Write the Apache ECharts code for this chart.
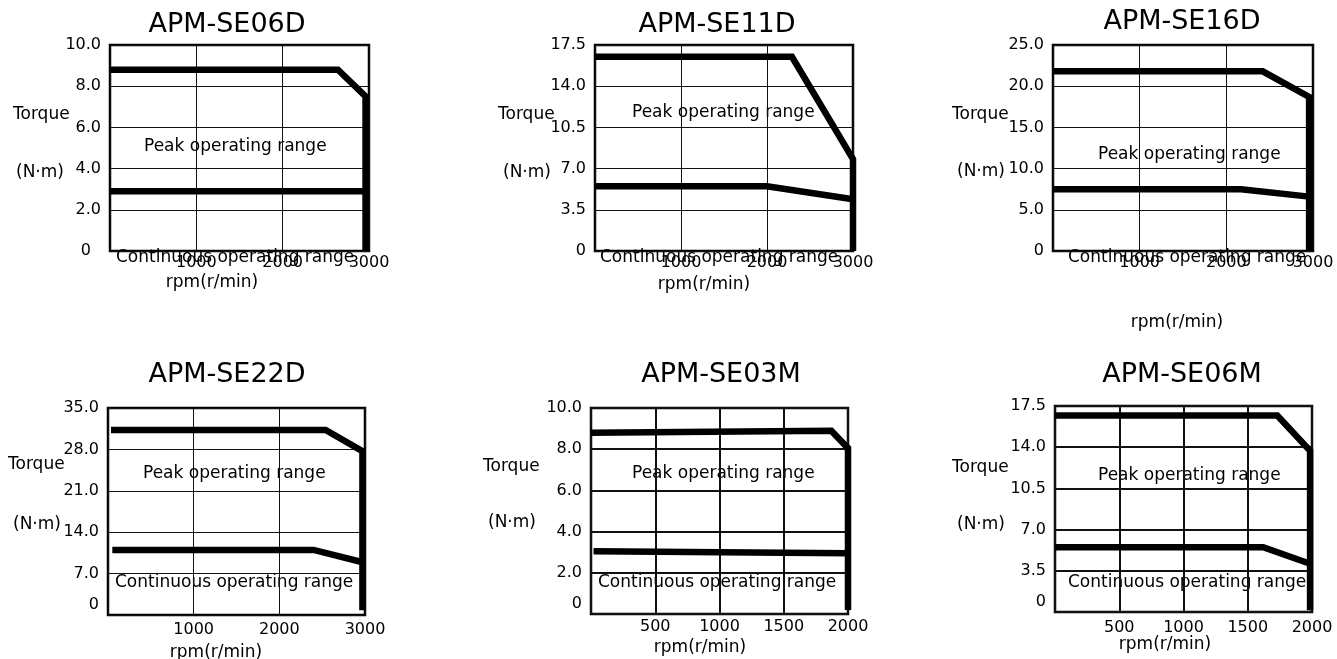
<!DOCTYPE html>
<html>
<head>
<meta charset="utf-8">
<script src="https://cdn.jsdelivr.net/npm/echarts@6/dist/echarts.min.js"></script>
<style>
html,body{margin:0;padding:0;background:#fff;}
#chart{width:1337px;height:659px;}
</style>
</head>
<body>
<div id="chart"></div>
<script>
// ---------- data ----------
const titles = ['APM-SE06D', 'APM-SE11D', 'APM-SE16D', 'APM-SE22D', 'APM-SE03M', 'APM-SE06M'];
const rpmMax = [3000, 3000, 3000, 3000, 2000, 2000];
const rpmStep = [1000, 1000, 1000, 1000, 500, 500];
const torqueMax = [10, 17.5, 25, 35, 10, 17.5];
const torqueStep = [2, 3.5, 5, 7, 2, 3.5];

// [rpm, torque] pairs
const peakSE06D = [[0, 8.8], [2640, 8.8], [2960, 7.5], [2960, 0]];
const contSE06D = [[0, 2.9], [2960, 2.9]];
const peakSE11D = [[0, 16.5], [2290, 16.5], [3000, 7.8], [3000, 0]];
const contSE11D = [[0, 5.5], [2000, 5.5], [3000, 4.4]];
const peakSE16D = [[0, 21.8], [2420, 21.8], [2955, 18.7], [2955, 0]];
const contSE16D = [[0, 7.5], [2170, 7.5], [2955, 6.6]];
const peakSE22D = [[35, 31.3], [2540, 31.3], [2970, 27.7], [2970, 0.8]];
const contSE22D = [[50, 11.0], [2400, 11.0], [2950, 9.0]];
const peakSE03M = [[0, 8.8], [1870, 8.9], [2000, 8.05], [2000, 0.2]];
const contSE03M = [[20, 3.05], [2000, 2.95]];
const peakSE06M = [[0, 16.7], [1730, 16.7], [1985, 13.7], [1985, 0.15]];
const contSE06M = [[0, 5.5], [1620, 5.5], [1985, 4.1]];

const peakCurves = [peakSE06D, peakSE11D, peakSE16D, peakSE22D, peakSE03M, peakSE06M];
const contCurves = [contSE06D, contSE11D, contSE16D, contSE22D, contSE03M, contSE06M];

const axisNameTorque = 'Torque';
const axisNameUnit = '(N·m)';
const axisNameRpm = 'rpm(r/min)';
const peakText = 'Peak operating range';
const contText = 'Continuous operating range';

// ---------- layout ----------
const FONT = '"DejaVu Sans", sans-serif';
const grids = [
  {left: 110, top: 45, width: 259, height: 206},
  {left: 595, top: 45, width: 258, height: 206},
  {left: 1053, top: 45, width: 260, height: 206},
  {left: 108, top: 408, width: 257, height: 207},
  {left: 591, top: 408, width: 257, height: 206},
  {left: 1055, top: 406, width: 257, height: 206}
];
const gridLineW = [1, 1, 1, 1, 2, 2];
const xLabelMargin = [4, 4, 4, 7, 5, 8];
const zeroLabel = ['0  ', '0', '0', '0\n', '0\n', '0\n'];
const pos = [
  {title: [227, 25], torque: [13, 115], unit: [16, 173], peak: [144, 147], cont: [116, 258], rpm: [212, 283]},
  {title: [717, 25], torque: [498, 115], unit: [503, 173], peak: [632, 113], cont: [600, 258], rpm: [704, 285]},
  {title: [1182, 22], torque: [952, 115], unit: [957, 172], peak: [1098, 155], cont: [1068, 258], rpm: [1177, 323]},
  {title: [227, 375], torque: [8, 465], unit: [13, 525], peak: [143, 474], cont: [115, 583], rpm: [216, 653]},
  {title: [721, 375], torque: [483, 467], unit: [488, 523], peak: [632, 474], cont: [598, 583], rpm: [700, 648]},
  {title: [1182, 375], torque: [952, 468], unit: [957, 525], peak: [1098, 476], cont: [1068, 583], rpm: [1165, 645]}
];

const option = {
  animation: false,
  backgroundColor: '#fff',
  grid: [], xAxis: [], yAxis: [], series: [], graphic: []
};

function txt(str, p, size, align) {
  return {
    type: 'text', x: p[0], y: p[1], silent: true,
    style: {
      text: str, fill: '#000', font: size + 'px ' + FONT,
      align: align, textAlign: align,
      verticalAlign: 'middle', textVerticalAlign: 'middle'
    }
  };
}

for (let i = 0; i < 6; i++) {
  const g = grids[i];
  option.grid.push({
    left: g.left, top: g.top, width: g.width, height: g.height,
    show: true, borderColor: '#000', borderWidth: 2.5, backgroundColor: 'transparent'
  });
  option.xAxis.push({
    type: 'value', gridIndex: i, min: 0, max: rpmMax[i], interval: rpmStep[i],
    axisLine: {show: false}, axisTick: {show: false},
    splitLine: {show: true, lineStyle: {color: '#111', width: gridLineW[i]}},
    axisLabel: {
      color: '#000', fontFamily: FONT, fontSize: 16, margin: xLabelMargin[i],
      formatter: v => (v === 0 ? '' : String(v))
    }
  });
  option.yAxis.push({
    type: 'value', gridIndex: i, min: 0, max: torqueMax[i], interval: torqueStep[i],
    axisLine: {show: false}, axisTick: {show: false},
    splitLine: {show: true, lineStyle: {color: '#111', width: gridLineW[i]}},
    axisLabel: {
      color: '#000', fontFamily: FONT, fontSize: 16, margin: 9, lineHeight: 20,
      formatter: v => (v === 0 ? zeroLabel[i] : v.toFixed(1))
    }
  });
  const lineStyle = {color: '#000', width: 6.5, cap: 'butt', join: 'miter'};
  option.series.push({
    type: 'line', xAxisIndex: i, yAxisIndex: i, data: peakCurves[i],
    showSymbol: false, clip: false, lineStyle: lineStyle, z: 5
  });
  option.series.push({
    type: 'line', xAxisIndex: i, yAxisIndex: i, data: contCurves[i],
    showSymbol: false, clip: false, lineStyle: lineStyle, z: 5
  });
  const p = pos[i];
  option.graphic.push(txt(titles[i], p.title, 27, 'center'));
  option.graphic.push(txt(axisNameTorque, p.torque, 17, 'left'));
  option.graphic.push(txt(axisNameUnit, p.unit, 17, 'left'));
  option.graphic.push(txt(peakText, p.peak, 17, 'left'));
  option.graphic.push(txt(contText, p.cont, 17, 'left'));
  option.graphic.push(txt(axisNameRpm, p.rpm, 17, 'center'));
}

const chart = echarts.init(document.getElementById('chart'), null, {renderer: 'canvas'});
chart.setOption(option);
</script>
</body>
</html>
